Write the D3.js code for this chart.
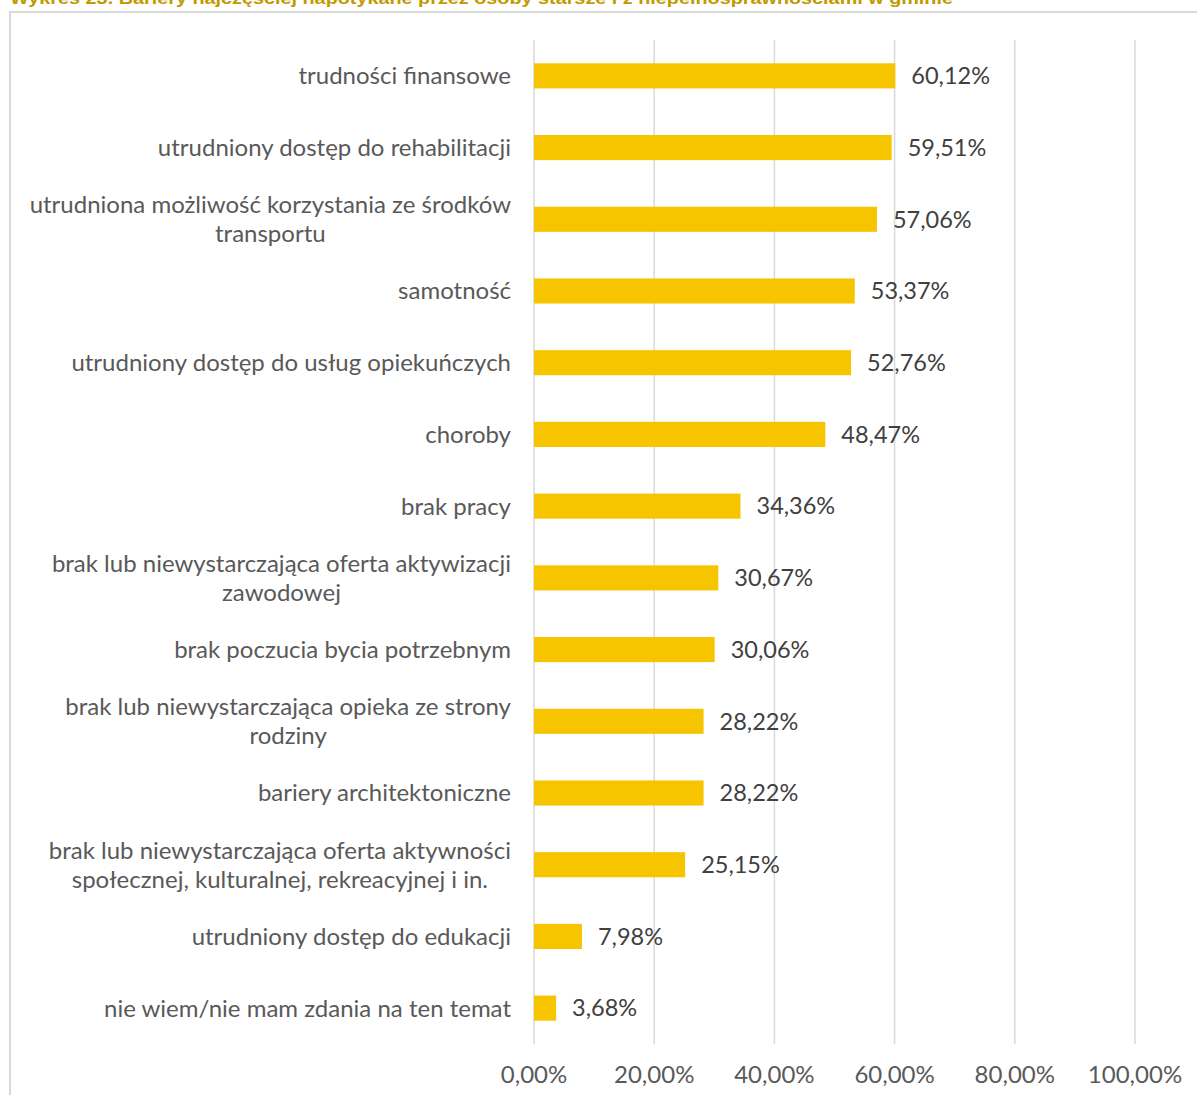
<!DOCTYPE html>
<html>
<head>
<meta charset="utf-8">
<script src="https://cdn.jsdelivr.net/npm/d3@7"></script>
<style>
  html, body { margin: 0; padding: 0; background: #fff; }
  svg { display: block; }
</style>
</head>
<body>
<svg id="chart" width="1197" height="1095"></svg>
<script>
const categories = [
  ["trudności finansowe"],
  ["utrudniony dostęp do rehabilitacji"],
  ["utrudniona możliwość korzystania ze środków", "transportu"],
  ["samotność"],
  ["utrudniony dostęp do usług opiekuńczych"],
  ["choroby"],
  ["brak pracy"],
  ["brak lub niewystarczająca oferta aktywizacji", "zawodowej"],
  ["brak poczucia bycia potrzebnym"],
  ["brak lub niewystarczająca opieka ze strony", "rodziny"],
  ["bariery architektoniczne "],
  ["brak lub niewystarczająca oferta aktywności", "społecznej, kulturalnej, rekreacyjnej i in."],
  ["utrudniony dostęp do edukacji"],
  ["nie wiem/nie mam zdania na ten temat"]
];
const values = [60.12, 59.51, 57.06, 53.37, 52.76, 48.47, 34.36, 30.67, 30.06, 28.22, 28.22, 25.15, 7.98, 3.68];
const tickValues = [0, 20, 40, 60, 80, 100];
const title = "Wykres 23. Bariery najczęściej napotykane przez osoby starsze i z niepełnosprawnościami w gminie";

const svg = d3.select("#chart");
const fmt = v => v.toFixed(2).replace(".", ",") + "%";

// title (cut off at top, as in the source)
svg.append("text")
  .attr("x", 10).attr("y", 4)
  .attr("font-family", "'Liberation Sans Narrow', 'Arial Narrow', 'Liberation Sans', sans-serif")
  .attr("font-weight", "bold")
  .attr("font-size", 17)
  .attr("fill", "#C09A00")
  .attr("textLength", 943)
  .attr("lengthAdjust", "spacingAndGlyphs")
  .text(title);

// frame
svg.append("path")
  .attr("d", "M10,1095 V12 H1197")
  .attr("fill", "none")
  .attr("stroke", "#d9d9d9")
  .attr("stroke-width", 2);

const x = d3.scaleLinear().domain([0, 100]).range([534, 1135]);
const y = d3.scaleBand().domain(d3.range(categories.length)).range([40, 1044]).paddingInner(0.65).paddingOuter(0.325);

// gridlines
svg.append("g").selectAll("line").data(tickValues).join("line")
  .attr("x1", d => x(d)).attr("x2", d => x(d))
  .attr("y1", 40).attr("y2", 1044)
  .attr("stroke", "#d9d9d9").attr("stroke-width", 1.5);

// bars
svg.append("g").selectAll("rect").data(values).join("rect")
  .attr("x", x(0))
  .attr("y", (d, i) => y(i))
  .attr("width", d => x(d) - x(0))
  .attr("height", y.bandwidth())
  .attr("fill", "#F6C500");

// value labels
svg.append("g").selectAll("text").data(values).join("text")
  .attr("x", d => x(d) + 16)
  .attr("y", (d, i) => y(i) + y.bandwidth() / 2)
  .attr("dy", "0.35em")
  .attr("font-family", "Lato, sans-serif")
  .attr("font-size", 23.5)
  .attr("fill", "#404040")
  .text(d => fmt(d));

// category labels
const lab = svg.append("g");
categories.forEach((lines, i) => {
  const cy = y(i) + y.bandwidth() / 2;
  const lh = 29;
  const t = lab.append("text")
    .attr("font-family", "Lato, sans-serif")
    .attr("font-size", 24)
    .attr("fill", "#595959");
  if (lines.length === 1) {
    t.attr("x", 511).attr("y", cy).attr("dy", "0.35em").attr("text-anchor", "end").text(lines[0]);
  } else {
    t.attr("text-anchor", "middle");
    lines.forEach((ln, j) => {
      t.append("tspan").attr("y", cy + (j - (lines.length - 1) / 2) * lh).attr("dy", "0.35em").text(ln);
    });
    const w = d3.max(t.selectAll("tspan").nodes(), n => n.getComputedTextLength());
    t.selectAll("tspan").attr("x", 511 - w / 2);
  }
});

// x axis tick labels
svg.append("g").selectAll("text").data(tickValues).join("text")
  .attr("x", d => x(d))
  .attr("y", 1075)
  .attr("dy", "0.35em")
  .attr("text-anchor", "middle")
  .attr("font-family", "Lato, sans-serif")
  .attr("font-size", 24)
  .attr("fill", "#595959")
  .text(d => fmt(d));
</script>
</body>
</html>
